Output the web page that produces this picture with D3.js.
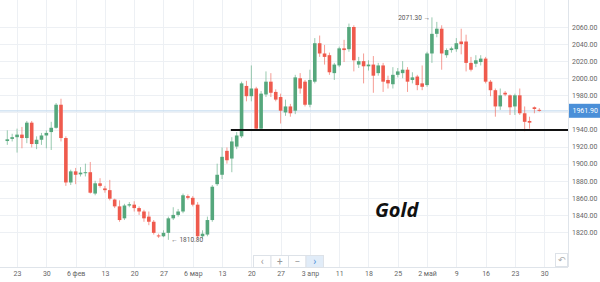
<!DOCTYPE html>
<html>
<head>
<meta charset="utf-8">
<script src="https://cdn.jsdelivr.net/npm/d3@7"></script>
<style>
  html, body { margin: 0; padding: 0; background: #fff; }
  svg { display: block; font-family: Roboto, "Noto Sans", sans-serif; }
</style>
</head>
<body>
<script>
// daily candles
const openP = [
  1926.5, 1929, 1931, 1934, 1930, 1948, 1923, 1928, 1933, 1937,
  1942, 1969, 1930, 1878, 1891, 1887.5, 1889, 1890, 1865, 1877,
  1871, 1869, 1858, 1850, 1836, 1851, 1852, 1848, 1844, 1838,
  1832, 1816, 1815, 1819, 1836, 1840, 1844, 1862, 1860, 1852,
  1815, 1817, 1834, 1876, 1887, 1915, 1906, 1920, 1932, 1991,
  1979, 1988, 1941, 1981, 1996, 1984, 1978, 1960, 1967, 1962,
  2000, 1996, 1969, 1996, 2041, 2029, 2027, 2006, 2015, 2035,
  2034, 2060, 2016, 2020, 2014, 2016, 2006, 2015, 1998, 1993,
  2004, 2006, 2010, 1998, 2002, 1994, 1992, 2029, 2052, 2058,
  2027, 2033, 2034, 2043, 2043, 2018, 2017, 2019, 2023, 1996,
  1986, 1967, 1983, 1980, 1967, 1980, 1959, 1950, 1966, 1963
];
const highP = [
  1939, 1935, 1941, 1943, 1950, 1950, 1932, 1936, 1939, 1949,
  1971, 1976, 1932, 1893, 1895, 1896, 1900, 1902, 1880, 1883,
  1874, 1881, 1859, 1857, 1853, 1855, 1856, 1850, 1846, 1844,
  1834, 1818, 1822, 1838, 1849, 1847, 1865, 1864, 1862, 1855,
  1822, 1838, 1875, 1900, 1919, 1919, 1931, 1937, 1996, 1997,
  2015, 1990, 1985, 2008, 2006, 1987, 1982, 1975, 1970, 2004,
  2006, 1998, 2010, 2047, 2050, 2039, 2030, 2018, 2037, 2045,
  2064, 2062, 2025, 2029, 2021, 2026, 2018, 2018, 2003, 2013,
  2012, 2020, 2013, 2007, 2004, 2015, 2031, 2071.3, 2066, 2062,
  2035, 2037, 2047, 2058, 2051, 2025, 2027, 2027, 2025, 1998,
  1988, 1988, 1985, 1981, 1982, 1988, 1967, 1955, 1967, 1965
];
const lowP = [
  1922, 1926, 1913, 1918, 1924, 1919, 1917, 1922, 1918, 1916,
  1941, 1926, 1874, 1875, 1876, 1885, 1885, 1865, 1863, 1872,
  1866, 1857, 1848, 1832, 1834, 1849, 1844, 1840, 1832, 1828,
  1817, 1813, 1814, 1810.8, 1834, 1838, 1842, 1858, 1850, 1812,
  1812, 1815, 1832, 1874, 1882, 1900, 1890, 1917, 1930, 1973,
  1973, 1939, 1939, 1978, 1978, 1973, 1947, 1956, 1955, 1958,
  1982, 1967, 1966, 1994, 2025, 2016, 2004, 1998, 2013, 2019,
  2031, 2008, 2012, 1994, 2009, 1983, 2003, 1984, 1988, 1988,
  2001, 2000, 1984, 1994, 1986, 1986, 1990, 2018, 2048, 2010,
  2024, 2030, 2031, 2028, 2008, 2008, 2013, 2015, 1994, 1979,
  1955, 1963, 1979, 1957, 1957, 1957, 1938, 1941, 1959, 1961
];
const closeP = [
  1928.5, 1931, 1934, 1930, 1948, 1923, 1928, 1933, 1936, 1942,
  1969, 1930, 1878, 1891, 1887, 1889.5, 1890, 1866, 1877, 1874,
  1869, 1859, 1850, 1834, 1851, 1852.5, 1848, 1844, 1836, 1832,
  1819, 1815, 1819, 1836, 1840, 1844, 1863, 1860, 1852, 1815,
  1818, 1834, 1873, 1887, 1908, 1904, 1926, 1933, 1994, 1979,
  1988, 1941, 1982, 1996, 1983, 1975, 1962, 1967, 1959, 2001,
  1988, 1969, 1998, 2041, 2029, 2025, 2007, 2016, 2035, 2033,
  2060, 2021, 2020, 2014, 2016, 2003, 2015, 1996, 1994, 2004,
  2008, 2010, 1996, 2001, 1992, 1990, 2029, 2052, 2058, 2029,
  2033, 2035, 2041, 2040, 2018, 2010, 2021, 2023, 1996, 1986,
  1967, 1980, 1981, 1966, 1980, 1959, 1949, 1948, 1964, 1961.9
];

const priceTicks = [1820, 1840, 1860, 1880, 1900, 1920, 1940, 1960, 1980, 2000, 2020, 2040, 2060];
const dateLabels = ["23", "30", "6 фев", "13", "20", "27", "6 мар", "13", "20", "27",
                    "3 апр", "11", "18", "25", "2 май", "9", "16", "23", "30"];
const dateLabelIdx = [2, 8, 14, 20, 26, 32, 38, 44, 50, 56, 62, 68, 74, 80, 86, 92, 98, 104, 110];

const lastPrice = 1961.9;
const supportLevel = 1939.4;
const supportFrom = 46;
const maxMark = { idx: 87, price: 2071.3 };
const minMark = { idx: 33, price: 1810.8 };
const title = "Gold";

function drawChart () {
  const width = 600;
  const height = 282;
  const plotRight = 568;
  const plotBottom = 267;
  const green = "#55a77c";
  const red = "#ef5a4d";

  const candles = closeP.map((c, i) => ({ i, o: openP[i], h: highP[i], l: lowP[i], c }));
  const fmt = d3.format(".2f");

  const x = d3.scaleLinear()
    .domain([0, candles.length - 1])
    .range([7.3, 539.3]);

  const y = d3.scaleLinear()
    .domain([1820, 2060])
    .range([232, 27]);

  const svg = d3.select(document.body).append("svg")
    .attr("width", width)
    .attr("height", height)
    .attr("viewBox", [0, 0, width, height]);

  svg.append("defs").append("clipPath")
    .attr("id", "plot")
    .append("rect")
      .attr("x", 0).attr("y", 0)
      .attr("width", plotRight).attr("height", plotBottom);

  // grid -----------------------------------
  const grid = svg.append("g").attr("stroke", "#edf0f4").attr("stroke-width", 1);
  grid.selectAll("hline")
    .data(priceTicks)
    .join("line")
      .attr("x1", 0).attr("x2", plotRight)
      .attr("y1", d => Math.round(y(d)) + 0.5)
      .attr("y2", d => Math.round(y(d)) + 0.5);
  grid.selectAll("vline")
    .data(dateLabelIdx)
    .join("line")
      .attr("y1", 0).attr("y2", plotBottom)
      .attr("x1", d => Math.round(x(d)) + 0.5)
      .attr("x2", d => Math.round(x(d)) + 0.5);

  // frame of the plot
  svg.append("line")
    .attr("x1", plotRight + 0.5).attr("x2", plotRight + 0.5)
    .attr("y1", 0).attr("y2", plotBottom)
    .attr("stroke", "#dfe4ea");
  svg.append("line")
    .attr("x1", 0).attr("x2", plotRight)
    .attr("y1", plotBottom + 0.5).attr("y2", plotBottom + 0.5)
    .attr("stroke", "#dfe4ea");

  // last price line
  svg.append("line")
    .attr("x1", 0).attr("x2", plotRight)
    .attr("y1", y(lastPrice)).attr("y2", y(lastPrice))
    .attr("stroke", "#c9def0")
    .attr("stroke-width", 1.2);

  // candles -----------------------------------
  const cg = svg.append("g").attr("clip-path", "url(#plot)")
    .selectAll("candle")
    .data(candles)
    .join("g")
      .attr("transform", d => `translate(${x(d.i)} 0)`);

  cg.append("line")
    .attr("y1", d => y(d.h))
    .attr("y2", d => y(d.l))
    .attr("stroke", d => d.c >= d.o ? green : red)
    .attr("stroke-opacity", 0.6)
    .attr("stroke-width", 1);

  cg.append("rect")
    .attr("x", -1.8)
    .attr("width", 3.6)
    .attr("y", d => y(Math.max(d.o, d.c)))
    .attr("height", d => Math.max(1, Math.abs(y(d.o) - y(d.c))))
    .attr("fill", d => d.c >= d.o ? green : red);

  // support line
  svg.append("line")
    .attr("x1", x(supportFrom) - 1).attr("x2", plotRight)
    .attr("y1", y(supportLevel)).attr("y2", y(supportLevel))
    .attr("stroke", "#111")
    .attr("stroke-width", 1.8);

  // max / min marks
  svg.append("text")
    .attr("x", x(maxMark.idx) - 2)
    .attr("y", y(maxMark.price))
    .attr("dy", "0.35em")
    .attr("text-anchor", "end")
    .attr("font-size", 6.5)
    .attr("fill", "#555")
    .text(`${fmt(maxMark.price)} →`);

  svg.append("text")
    .attr("x", x(minMark.idx) + 3)
    .attr("y", y(minMark.price))
    .attr("dy", "0.35em")
    .attr("font-size", 6.5)
    .attr("fill", "#555")
    .text(`← ${fmt(minMark.price)}`);

  // axes -----------------------------------
  // the last price badge covers the tick label next to it
  const visibleTicks = priceTicks.filter(d => Math.abs(y(d) - y(lastPrice)) > 8);
  const yAxis = svg.append("g")
    .attr("transform", `translate(${plotRight} 0)`)
    .call(d3.axisRight(y).tickValues(visibleTicks).tickFormat(fmt).tickSize(0).tickPadding(4));
  yAxis.select(".domain").remove();
  yAxis.selectAll("text")
    .attr("font-size", 7)
    .attr("fill", "#666")
    .attr("font-family", "Roboto, sans-serif");

  const xAxis = svg.append("g")
    .attr("transform", `translate(0 ${plotBottom})`)
    .call(d3.axisBottom(x).tickValues(dateLabelIdx).tickFormat((d, i) => dateLabels[i]).tickSize(0).tickPadding(4));
  xAxis.select(".domain").remove();
  xAxis.selectAll("text")
    .attr("font-size", 7)
    .attr("fill", "#666")
    .attr("font-family", "Roboto, sans-serif");

  // last price badge
  const badge = svg.append("g")
    .attr("transform", `translate(${plotRight + 1} ${y(lastPrice)})`);
  badge.append("rect")
    .attr("x", 0).attr("y", -7)
    .attr("width", 31).attr("height", 14)
    .attr("fill", "#4a8fd8");
  badge.append("text")
    .attr("x", 3.5)
    .attr("dy", "0.35em")
    .attr("font-size", 7)
    .attr("fill", "#fff")
    .text(fmt(lastPrice));

  // title
  svg.append("text")
    .attr("x", 375)
    .attr("y", 217)
    .attr("font-family", "'Open Sans', sans-serif")
    .attr("font-weight", 700)
    .attr("font-style", "italic")
    .attr("font-size", 20)
    .attr("fill", "#111")
    .text(title);

  // navigation buttons
  const navLabels = ["‹", "+", "−", "›"];
  const nav = svg.append("g")
    .attr("transform", "translate(253.5 255.5)")
    .selectAll("btn")
    .data(navLabels)
    .join("g")
      .attr("transform", (d, i) => `translate(${i * 17.5} 0)`);
  nav.append("rect")
    .attr("width", 17.5).attr("height", 12)
    .attr("fill", (d, i) => i === 3 ? "#e1ecf8" : "#fff")
    .attr("stroke", "#dde2e8");
  nav.append("text")
    .attr("x", 8.75).attr("y", 6)
    .attr("dy", "0.35em")
    .attr("text-anchor", "middle")
    .attr("font-size", 10)
    .attr("fill", (d, i) => i === 3 ? "#4a8fd8" : "#999")
    .text(d => d);

  // reset button
  const reset = svg.append("g").attr("transform", "translate(555.5 253.5)");
  reset.append("rect")
    .attr("width", 12).attr("height", 13)
    .attr("fill", "#fff")
    .attr("stroke", "#dde2e8");
  reset.append("text")
    .attr("x", 6).attr("y", 6.5)
    .attr("dy", "0.35em")
    .attr("text-anchor", "middle")
    .attr("font-size", 9)
    .attr("fill", "#aaa")
    .attr("font-family", "DejaVu Sans")
    .text("↶");
}

drawChart();
</script>
</body>
</html>
